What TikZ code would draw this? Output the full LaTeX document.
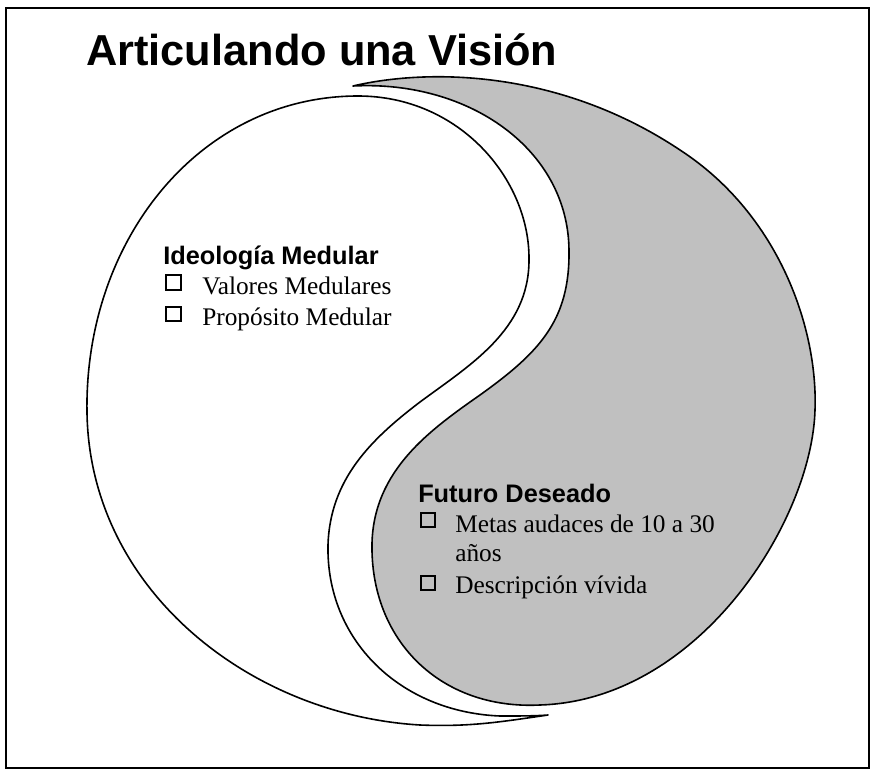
\documentclass[tikz,border=0pt]{standalone}
\usepackage{fontspec}
\setmainfont{Liberation Serif}
\setsansfont{Liberation Sans}
\usepackage{tikz}
\definecolor{futuregray}{RGB}{192,192,192}

\begin{document}
\begin{tikzpicture}[x=0.75pt, y=-0.75pt,
        outline/.style={line width=1.2pt, line join=round},
        header/.style={anchor=base west, inner sep=0pt, font=\sffamily\bfseries\fontsize{19}{22}\selectfont},
        entry/.style={anchor=base west, inner sep=0pt, font=\fontsize{19}{22}\selectfont},
        tickbox/.style={draw, line width=1.3pt, minimum size=11pt, inner sep=0pt}]
            \useasboundingbox (0,0) rectangle (875,774);
            \draw[line width=1.8pt] (6,8) rectangle (869,768);
            % ideologia medular (white half)
            \draw[outline, fill=white] (548,715)
                .. controls (500,722) and (470,727) .. (420,725)
                .. controls (250,715) and (90,590) .. (87,413)
                .. controls (84,240) and (200,96) .. (358,96)
                .. controls (460,96) and (530,180) .. (529,260)
                .. controls (529,330) and (470,365) .. (420,402)
                .. controls (370,440) and (330,480) .. (328,545)
                .. controls (326,640) and (400,712) .. (500,716)
                .. controls (520,716) and (535,716) .. (548,715) -- cycle;
            % futuro deseado (gray half)
            \draw[outline, fill=futuregray] (353,86)
                .. controls (430,68) and (560,70) .. (680,150)
                .. controls (780,215) and (818,330) .. (815,410)
                .. controls (812,520) and (700,700) .. (540,705)
                .. controls (440,710) and (370,640) .. (372,543)
                .. controls (374,470) and (430,430) .. (480,395)
                .. controls (540,352) and (570,320) .. (569,250)
                .. controls (568,150) and (470,80) .. (353,86) -- cycle;
            \node (title) at (86,65)
                [anchor=base west, inner sep=0pt, font=\sffamily\bfseries\fontsize{32.5}{39}\selectfont] {Articulando una Visión};
            % left list
            \node (ideology) at (163,264) [header] {Ideología Medular};
            \node (boxValues) at (173.5,282.5) [tickbox] {};
            \node (values) at (202,294) [entry] {Valores Medulares};
            \node (boxPurpose) at (173.5,314) [tickbox] {};
            \node (purpose) at (202,325) [entry] {Propósito Medular};
            % right list
            \node (future) at (418,502) [header] {Futuro Deseado};
            \node (boxGoals) at (428,520) [tickbox] {};
            \node (goals) at (455,532) [entry] {Metas audaces de 10 a 30};
            \node (goalsYears) at (455,561) [entry] {años};
            \node (boxVivid) at (428,583) [tickbox] {};
            \node (vivid) at (455,593) [entry] {Descripción vívida};
\end{tikzpicture}
\end{document}
